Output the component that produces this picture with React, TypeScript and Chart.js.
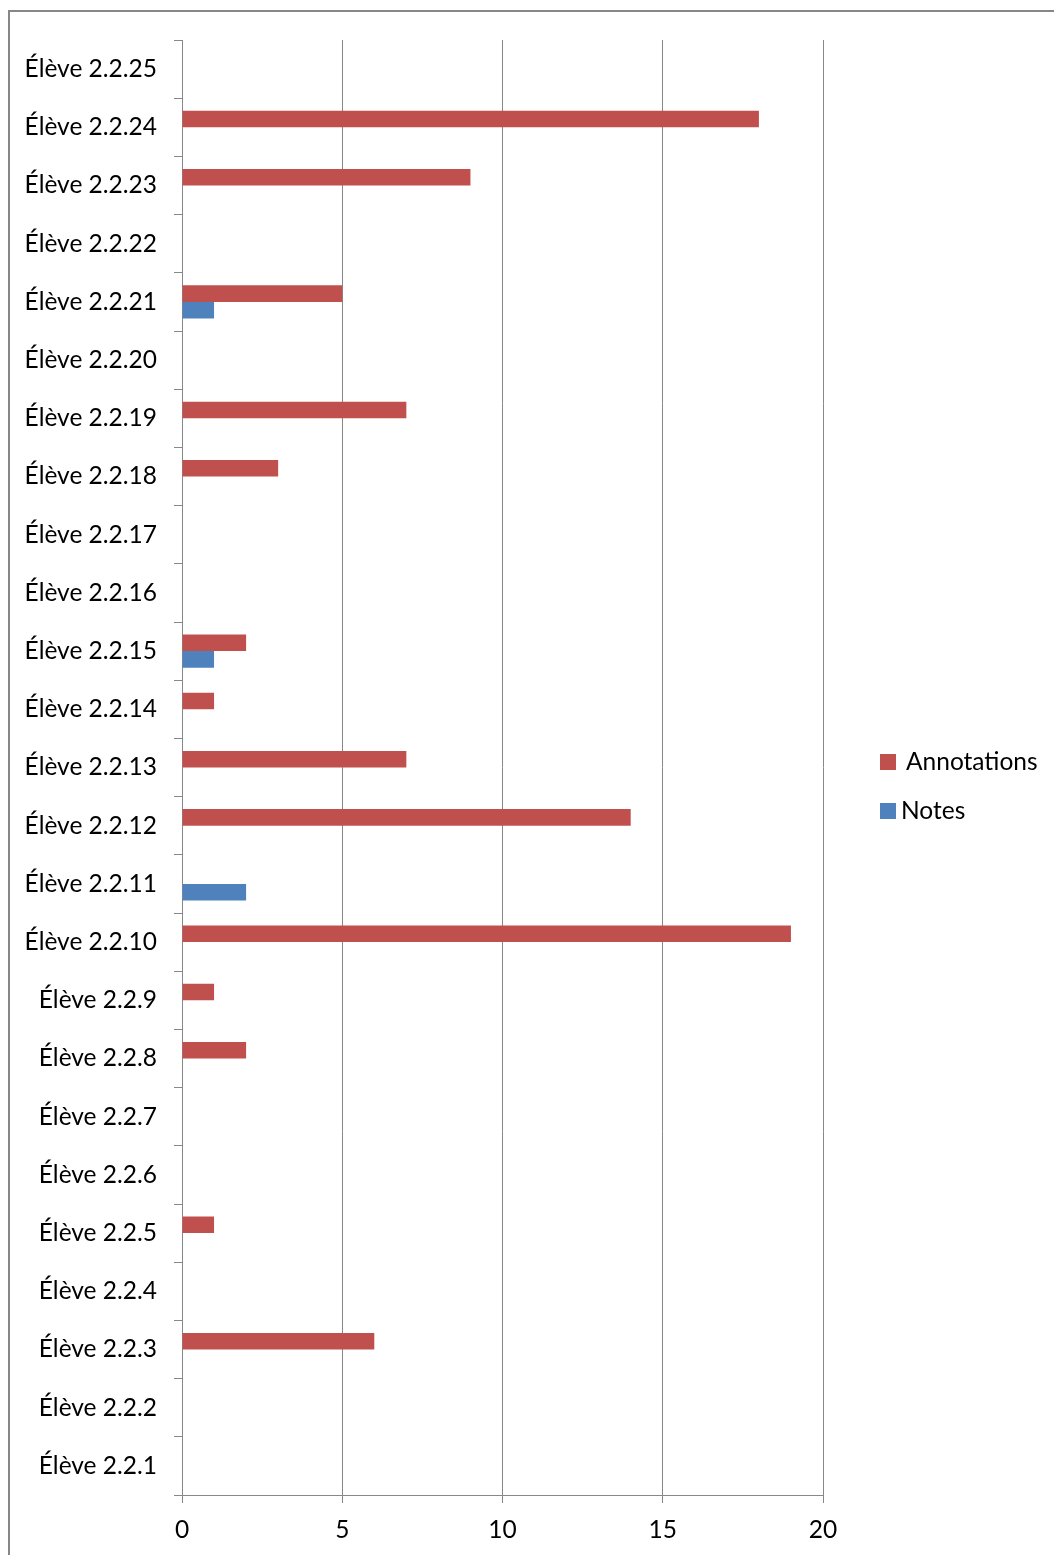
import React, { useEffect, useRef } from "react";
import { Chart, registerables } from "chart.js";

Chart.register(...registerables);

// Students, listed top to bottom as they appear on the axis
const categories = [
  "Élève 2.2.25", "Élève 2.2.24", "Élève 2.2.23", "Élève 2.2.22", "Élève 2.2.21",
  "Élève 2.2.20", "Élève 2.2.19", "Élève 2.2.18", "Élève 2.2.17", "Élève 2.2.16",
  "Élève 2.2.15", "Élève 2.2.14", "Élève 2.2.13", "Élève 2.2.12", "Élève 2.2.11",
  "Élève 2.2.10", "Élève 2.2.9", "Élève 2.2.8", "Élève 2.2.7", "Élève 2.2.6",
  "Élève 2.2.5", "Élève 2.2.4", "Élève 2.2.3", "Élève 2.2.2", "Élève 2.2.1",
];

const annotations = [0, 18, 9, 0, 5, 0, 7, 3, 0, 0, 2, 1, 7, 14, 0, 19, 1, 2, 0, 0, 1, 0, 6, 0, 0];
const notes = [0, 0, 0, 0, 1, 0, 0, 0, 0, 0, 1, 0, 0, 0, 2, 0, 0, 0, 0, 0, 0, 0, 0, 0, 0];

const seriesNames = ["Annotations", "Notes"];
const seriesColors = ["#C0504D", "#4F81BD"];

const xTicks = [0, 5, 10, 15, 20];

const FONT = "Lato, 'Open Sans', sans-serif";
const FONT_SIZE = 24.5;
const AXIS_GREY = "#888888";

// Legend box drawn to the right of the plot
const sideLegend = {
  id: "sideLegend",
  afterDraw(chart: any) {
    const ctx = chart.ctx;
    const items = [
      { name: seriesNames[0], color: seriesColors[0], boxX: 870, boxY: 742, textX: 896, textY: 750 },
      { name: seriesNames[1], color: seriesColors[1], boxX: 870, boxY: 791, textX: 891, textY: 799 },
    ];
    ctx.save();
    ctx.font = `${FONT_SIZE}px ${FONT}`;
    ctx.textBaseline = "middle";
    ctx.textAlign = "left";
    for (const it of items) {
      ctx.fillStyle = it.color;
      ctx.fillRect(it.boxX, it.boxY, 16, 16);
      ctx.fillStyle = "#000000";
      ctx.fillText(it.name, it.textX, it.textY);
    }
    ctx.restore();
  },
};

export default function App() {
  const canvasRef = useRef<HTMLCanvasElement | null>(null);

  useEffect(() => {
    document.documentElement.style.overflow = "hidden";
    document.body.style.overflow = "hidden";
    if (!canvasRef.current) return;
    const chart = new Chart(canvasRef.current, {
      type: "bar",
      data: {
        labels: categories,
        datasets: [
          {
            label: seriesNames[0],
            data: annotations,
            backgroundColor: seriesColors[0],
            borderWidth: 0,
            categoryPercentage: 0.571,
            barPercentage: 1,
          },
          {
            label: seriesNames[1],
            data: notes,
            backgroundColor: seriesColors[1],
            borderWidth: 0,
            categoryPercentage: 0.571,
            barPercentage: 1,
          },
        ],
      },
      options: {
        indexAxis: "y",
        responsive: false,
        animation: false,
        layout: { padding: { top: 28, right: 239, bottom: 0, left: 0 } },
        plugins: {
          legend: { display: false },
          tooltip: { enabled: false },
        },
        scales: {
          x: {
            min: 0,
            max: 20,
            afterBuildTicks: (scale: any) => {
              scale.ticks = xTicks.map((v) => ({ value: v }));
            },
            afterFit: (scale: any) => {
              scale.height = 60;
            },
            grid: {
              color: AXIS_GREY,
              lineWidth: 1,
              drawTicks: true,
              tickLength: 8,
              tickColor: AXIS_GREY,
            },
            border: { display: true, color: AXIS_GREY, width: 1 },
            ticks: {
              color: "#000000",
              padding: 12,
              font: { family: FONT, size: FONT_SIZE },
              maxRotation: 0,
            },
          },
          y: {
            afterFit: (scale: any) => {
              scale.width = 172;
              scale.paddingTop = 0;
              scale.paddingBottom = 0;
            },
            grid: {
              offset: true,
              drawOnChartArea: false,
              drawTicks: true,
              tickLength: 8,
              color: AXIS_GREY,
              tickColor: AXIS_GREY,
            },
            border: { display: true, color: AXIS_GREY, width: 1 },
            ticks: {
              color: "#000000",
              padding: 17,
              autoSkip: false,
              font: { family: FONT, size: FONT_SIZE },
            },
          },
        },
      },
      plugins: [sideLegend],
    } as any);
    return () => chart.destroy();
  }, []);

  return (
    <div
      style={{
        marginTop: 2,
        width: 1054,
        height: 1545,
        boxSizing: "border-box",
        borderTop: "2px solid #878787",
        borderLeft: "2px solid #878787",
        background: "#ffffff",
        overflow: "hidden",
      }}
    >
      <canvas ref={canvasRef} width={1052} height={1543} style={{ display: "block" }} />
    </div>
  );
}
